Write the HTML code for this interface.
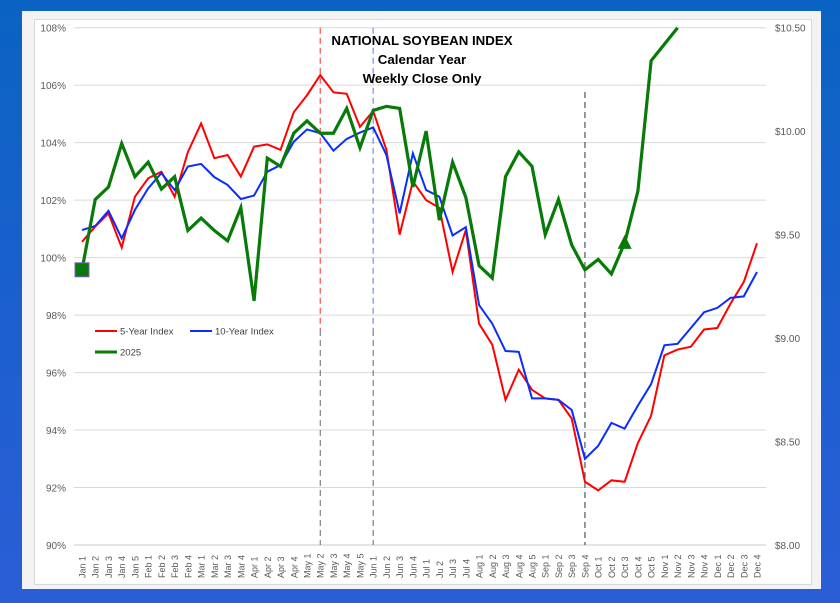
<!DOCTYPE html>
<html><head><meta charset="utf-8"><style>
body{margin:0;width:840px;height:603px;overflow:hidden;background:linear-gradient(180deg,#0a63c2 0%,#1e5fd0 60%,#2b5ed6 100%);font-family:"Liberation Sans",sans-serif;}
#panel{position:absolute;left:22px;top:11px;width:799px;height:578px;background:#f3f3f3;}
#inner{position:absolute;left:34px;top:19px;width:776px;height:564px;background:#fff;border:1px solid #d9d9d9;}
svg{position:absolute;left:0;top:0;}
</style></head><body>
<div id="panel"></div>
<div id="inner"></div>
<svg id="chart" width="840" height="603"></svg>
<script>
const categories=["Jan 1","Jan 2","Jan 3","Jan 4","Jan 5","Feb 1","Feb 2","Feb 3","Feb 4","Mar 1","Mar 2","Mar 3","Mar 4","Apr 1","Apr 2","Apr 3","Apr 4","May 1","May 2","May 3","May 4","May 5","Jun 1","Jun 2","Jun 3","Jun 4","Jul 1","Ju 2","Jul 3","Jul 4","Aug 1","Aug 2","Aug 3","Aug 4","Aug 5","Sep 1","Sep 2","Sep 3","Sep 4","Oct 1","Oct 2","Oct 3","Oct 4","Oct 5","Nov 1","Nov 2","Nov 3","Nov 4","Dec 1","Dec 2","Dec 3","Dec 4"];
const fiveYear=[100.55,101.08,101.54,100.35,102.12,102.76,102.99,102.12,103.67,104.67,103.46,103.57,102.82,103.86,103.94,103.75,105.06,105.65,106.35,105.75,105.7,104.55,105.1,103.75,100.8,102.65,102.0,101.73,99.5,100.96,97.7,96.97,95.05,96.1,95.4,95.1,95.05,94.4,92.2,91.9,92.25,92.2,93.55,94.5,96.6,96.8,96.9,97.5,97.55,98.4,99.15,100.5];
const tenYear=[100.96,101.1,101.63,100.67,101.66,102.41,102.94,102.35,103.17,103.26,102.8,102.53,102.04,102.16,102.99,103.22,104.03,104.46,104.33,103.72,104.13,104.35,104.53,103.57,101.54,103.63,102.35,102.12,100.77,101.06,98.35,97.7,96.75,96.72,95.1,95.1,95.05,94.7,93.0,93.45,94.25,94.05,94.85,95.6,96.95,97.0,97.55,98.1,98.25,98.6,98.65,99.5];
const y2025=[9.33,9.67,9.73,9.94,9.78,9.85,9.72,9.78,9.52,9.58,9.52,9.47,9.63,9.18,9.87,9.83,9.99,10.05,9.99,9.99,10.11,9.92,10.1,10.12,10.11,9.73,10.0,9.57,9.85,9.68,9.35,9.29,9.78,9.9,9.83,9.5,9.67,9.45,9.33,9.38,9.31,9.46,9.71,10.34,10.42,10.5];
const leftTicks=[90,92,94,96,98,100,102,104,106,108];
const rightTicks=[8.0,8.5,9.0,9.5,10.0,10.5];
const markerLines=[{cat:18,color:"#ff4d4d"},{cat:22,color:"#6f8cff"},{cat:38,color:"#555"}];
const titleLines=["NATIONAL SOYBEAN INDEX","Calendar Year","Weekly Close Only"];

const NS="http://www.w3.org/2000/svg";
const svg=document.getElementById('chart');
const X0=82,X1=757,YT=27.7,YB=545,L0=74,L1=766;
const xS=i=>X0+(X1-X0)*i/(categories.length-1);
const yL=v=>YB-(v-90)/(108-90)*(YB-YT);
const yR=v=>YB-(v-8)/(10.5-8)*(YB-YT);
function mk(tag,attrs,parent){const e=document.createElementNS(NS,tag);for(const k in attrs)e.setAttribute(k,attrs[k]);(parent||svg).appendChild(e);return e;}

leftTicks.forEach(t=>{
  const g=mk('line',{x1:L0,x2:L1,y1:yL(t),y2:yL(t),stroke:t===90?'#c8c8c8':'#d9d9d9','stroke-width':1});
  
  
  const tx=mk('text',{x:66,y:yL(t)+4,'text-anchor':'end','font-size':10,fill:'#595959'});
  tx.textContent=t+'%';
  
  
});
rightTicks.forEach(t=>{
  const tx=mk('text',{x:775,y:yR(t)+4,'font-size':10,fill:'#595959'});
  tx.textContent='$'+t.toFixed(2);
  
  
});
categories.forEach((c,i)=>{
  const tx=mk('text',{transform:`translate(${xS(i)+3.5},578) rotate(-90)`,'font-size':9,fill:'#595959'});
  tx.textContent=c;
  
  
});
markerLines.forEach(m=>{
  const x=xS(m.cat);
  const top=m.cat===38?92:YT;
  const l=mk('line',{x1:x,x2:x,y1:top,y2:m.cat===38?YB:330,stroke:m.color,'stroke-width':1.2,'stroke-dasharray':'6,4'});
  
  
  if(m.cat!==38){
    const l2=mk('line',{x1:x,x2:x,y1:330,y2:YB,stroke:'#666','stroke-width':1,'stroke-dasharray':'6,4'});
    
    
  }
});
function series(vals,ys,color,w,name){
  const p=mk('polyline',{points:vals.map((v,i)=>xS(i)+','+ys(v)).join(' '),fill:'none',stroke:color,'stroke-width':w,'stroke-linejoin':'miter'});
  
  
}
series(fiveYear,yL,'#ff0000',2,'five-year-index-line');
series(tenYear,yL,'#0a2cff',2,'ten-year-index-line');
series(y2025,yR,'#087a08',3.2,'series-2025-line');
const sq=mk('rect',{x:xS(0)-7,y:yR(y2025[0])-7,width:14,height:14,fill:'#087a08',stroke:'#8a5cc7','stroke-width':1});


const ti=41,tx0=xS(ti),ty0=yR(y2025[ti]);
const tri=mk('polygon',{points:`${tx0},${ty0-8} ${tx0-7},${ty0+6} ${tx0+7},${ty0+6}`,fill:'#087a08'});


titleLines.forEach((t,i)=>{
  const tx=mk('text',{x:422,y:45+i*19,'text-anchor':'middle','font-size':13.3,'font-weight':'bold',fill:'#000'});
  tx.textContent=t;
  
  
});
const legend=[{x:95,y:331,c:'#ff0000',t:'5-Year Index'},{x:190,y:331,c:'#0a2cff',t:'10-Year Index'},{x:95,y:352,c:'#087a08',t:'2025'}];
legend.forEach(l=>{
  const g=mk('g',{});
  
  
  mk('line',{x1:l.x,x2:l.x+22,y1:l.y,y2:l.y,stroke:l.c,'stroke-width':l.t==='2025'?3:2},g);
  const tx=mk('text',{x:l.x+25,y:l.y+3.5,'font-size':9.5,fill:'#404040'},g);
  tx.textContent=l.t;
});
</script>
</body></html>
